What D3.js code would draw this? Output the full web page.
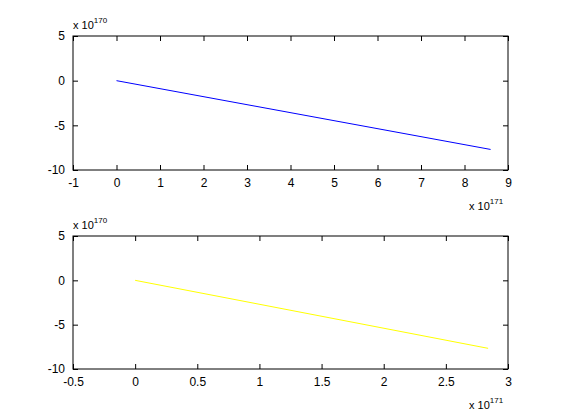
<!DOCTYPE html>
<html>
<head>
<meta charset="utf-8">
<script src="https://cdn.jsdelivr.net/npm/d3@7"></script>
<style>
body { margin: 0; background: #fff; }
text { font-family: "Liberation Sans", Arial, sans-serif; font-size: 11px; }
</style>
</head>
<body>
<svg id="chart" width="561" height="420"></svg>
<script>
// values in units of 1e171 (x) and 1e170 (y)
var topX = [0, 8.6];
var topY = [0, -7.7];
var botX = [0, 2.84];
var botY = [0, -7.67];
var topXTicks = [-1, 0, 1, 2, 3, 4, 5, 6, 7, 8, 9];
var botXTicks = [-0.5, 0, 0.5, 1, 1.5, 2, 2.5, 3];
var yTicks = [-10, -5, 0, 5];

var svg = d3.select("#chart");
var fmt = function(d){ return String(d); };

function panel(top, bottom, xDomain, xTicks, xs, ys, color) {
	var x = d3.scaleLinear().domain(xDomain).range([73, 508]);
	var y = d3.scaleLinear().domain([-10, 5]).range([bottom, top]);
	var g = svg.append("g");

	g.append("rect").attr("x", 73).attr("y", top).attr("width", 435).attr("height", bottom - top)
		.attr("fill", "none").attr("stroke", "#000");

	g.append("g").attr("transform", "translate(0," + bottom + ")")
		.call(d3.axisBottom(x).tickValues(xTicks).tickFormat(fmt).tickSizeInner(-5).tickSizeOuter(0).tickPadding(8));
	g.append("g").attr("transform", "translate(0," + top + ")")
		.call(d3.axisTop(x).tickValues(xTicks).tickSizeInner(-5).tickSizeOuter(0).tickFormat(""));
	g.append("g").attr("transform", "translate(73,0)")
		.call(d3.axisLeft(y).tickValues(yTicks).tickFormat(fmt).tickSizeInner(-5).tickSizeOuter(0).tickPadding(8));
	g.append("g").attr("transform", "translate(508,0)")
		.call(d3.axisRight(y).tickValues(yTicks).tickSizeInner(-5).tickSizeOuter(0).tickFormat(""));
	g.selectAll(".domain").remove();
	g.selectAll("text").attr("fill", "#000").style("font-size", "12px");

	var line = d3.line().x(function(d){ return x(d[0]); }).y(function(d){ return y(d[1]); });
	g.append("path").datum(d3.zip(xs, ys)).attr("d", line)
		.attr("fill", "none").attr("stroke", color).attr("stroke-width", 1);

	var ty = g.append("text").attr("x", 73).attr("y", top - 7);
	ty.append("tspan").text("x 10");
	ty.append("tspan").attr("dy", -6).style("font-size", "8px").text("170");

	var tx = g.append("text").attr("x", 469).attr("y", bottom + 40);
	tx.append("tspan").text("x 10");
	tx.append("tspan").attr("dy", -6).style("font-size", "8px").text("171");
}

panel(36, 170, [-1, 9], topXTicks, topX, topY, "#0000ff");
panel(236, 369, [-0.5, 3], botXTicks, botX, botY, "#ffff00");
</script>
</body>
</html>
